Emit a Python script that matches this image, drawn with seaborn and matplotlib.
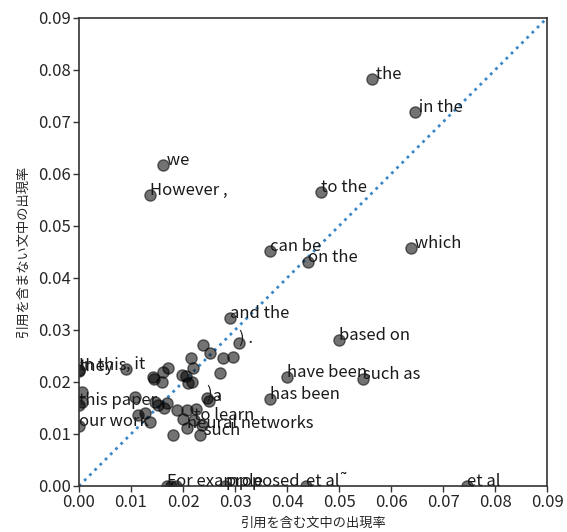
import matplotlib
matplotlib.use("Agg")
import matplotlib.pyplot as plt
import seaborn as sns
import pandas as pd

# ---- data -------------------------------------------------------------
words = [
    " the", " in the", " we", "However ,", "to the", "can be", "on the", " which",
    "and the", ") .", "based on", "have been", "such as", "has been",
    "In this", "they", ", it", "this paper", "our work",
    ") ,", " a", "to learn", "neural networks", " such",
    "For example", "proposed", "et al˜", "et al",
    "", "", "", "", "", "", "", "", "", "", "", "", "", "", "", "", "",
    "", "", "", "", "", "", "", "", "", "", "", "", "", "", "", "", "",
]
rate_with = [
    0.0563, 0.0646, 0.0162, 0.0137, 0.0465, 0.0367, 0.0440, 0.0638,
    0.0290, 0.0308, 0.0500, 0.0400, 0.0546, 0.0367,
    0.0000, 0.0000, 0.0090, 0.0000, 0.0000,
    0.0247, 0.0250, 0.0222, 0.0208, 0.0233,
    0.0169, 0.0281, 0.0437, 0.0746,
    0.0215, 0.0171, 0.0162, 0.0142, 0.0160, 0.0219, 0.0198, 0.0217, 0.0238,
    0.0277, 0.0296, 0.0271, 0.0206, 0.0210, 0.0169, 0.0152, 0.0188,
    0.0113, 0.0137, 0.0181, 0.0237, 0.0108, 0.0127, 0.0146, 0.0208, 0.0005,
    0.0005, 0.0176, 0.0186, 0.0163, 0.0252, 0.0145, 0.0225, 0.0200,
]
rate_without = [
    0.0783, 0.0719, 0.0617, 0.0560, 0.0565, 0.0452, 0.0431, 0.0458,
    0.0323, 0.0275, 0.0281, 0.0210, 0.0206, 0.0167,
    0.0224, 0.0221, 0.0225, 0.0156, 0.0115,
    0.0169, 0.0163, 0.0127, 0.0111, 0.0098,
    0.0000, 0.0000, 0.0000, 0.0000,
    0.0246, 0.0227, 0.0219, 0.0210, 0.0200, 0.0227, 0.0213, 0.0200, 0.0271,
    0.0246, 0.0248, 0.0217, 0.0212, 0.0198, 0.0160, 0.0156, 0.0146,
    0.0137, 0.0123, 0.0098, 0.0117, 0.0171, 0.0140, 0.0162, 0.0146, 0.0180,
    0.0162, 0.0000, 0.0000, 0.0150, 0.0256, 0.0205, 0.0148, 0.0128,
]
diag = [0.0, 0.09]
ticks = [0.00, 0.01, 0.02, 0.03, 0.04, 0.05, 0.06, 0.07, 0.08, 0.09]
xlabel = "引用を含む文中の出現率"
ylabel = "引用を含まない文中の出現率"

df = pd.DataFrame({"word": words, "with": rate_with, "without": rate_without})

# ---- style ------------------------------------------------------------
sns.set_theme(style="white")
plt.rcParams["font.family"] = ["Noto Sans CJK JP", "DejaVu Sans"]
plt.rcParams["xtick.bottom"] = True
plt.rcParams["ytick.left"] = True

fig = plt.figure(figsize=(5.67, 5.32), dpi=100)
ax = fig.add_axes([79 / 567, 46 / 532, 468 / 567, 468 / 532])

ax.plot(diag, diag, linestyle=":", color="#3a87c8", linewidth=2, zorder=1)
sns.scatterplot(data=df, x="with", y="without", ax=ax, color="black",
                alpha=0.55, s=65, edgecolor="black", linewidth=1, zorder=2)

for w, x, y in zip(df["word"], df["with"], df["without"]):
    if w:
        ax.text(x, y, w, fontsize=12, color="#1a1a1a", zorder=3)

ax.set_xlim(0, 0.09)
ax.set_ylim(0, 0.09)
ax.set_xticks(ticks)
ax.set_yticks(ticks)
ax.set_xticklabels([f"{t:.2f}" for t in ticks], fontsize=12)
ax.set_yticklabels([f"{t:.2f}" for t in ticks], fontsize=12)
ax.tick_params(axis="both", length=4, width=1, color="#333333", pad=2)
for sp in ax.spines.values():
    sp.set_color("#333333")
    sp.set_linewidth(1.2)
ax.set_xlabel(xlabel, fontsize=9.5, labelpad=4)
ax.set_ylabel(ylabel, fontsize=9.5, labelpad=6)

fig.savefig("out.png", dpi=100)
